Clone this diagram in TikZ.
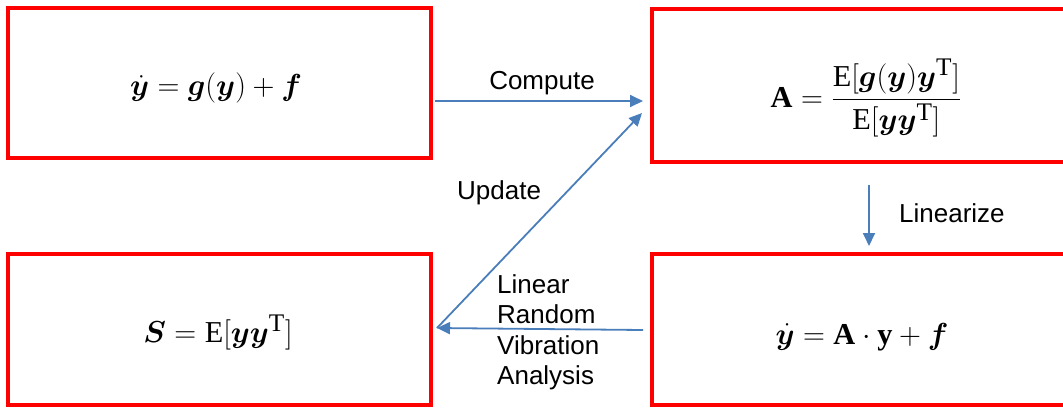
\documentclass[tikz,border=0pt]{standalone}
\usepackage{amsmath}
\usepackage{bm}
\usepackage{fontspec}
\setmainfont{Liberation Serif}
\newfontfamily\lblfont{Liberation Sans}
\usetikzlibrary{arrows.meta}
\definecolor{boxred}{RGB}{255,0,0}
\definecolor{arrblue}{RGB}{74,126,187}
\tikzset{
  redbox/.style={draw=boxred, line width=4pt},
  formula/.style={inner sep=0pt, font=\fontsize{24.88}{30}\selectfont, scale=1.22, transform shape},
  lbl/.style={inner sep=0pt, font=\lblfont\fontsize{26}{30.5}\selectfont, text=black},
  conn/.style={draw=arrblue, line width=1.8pt, -{Triangle[length=13pt,width=12pt]}}
}
\begin{document}
\begin{tikzpicture}[x=1pt,y=-1pt]
\useasboundingbox (0,0) rectangle (1063,408);
% boxes
\draw[redbox] (8,8) rectangle (431,158);
\draw[redbox] (652,9) rectangle (1080,162);
\draw[redbox] (8,254) rectangle (431,405);
\draw[redbox] (652,254) rectangle (1080,405);
\coordinate (tlE) at (435,101);
\coordinate (trW) at (643,101);
\coordinate (trSW) at (642,113);
\coordinate (blE) at (437,328);
\coordinate (brW) at (643,330);
\coordinate (trS) at (869,185);
\coordinate (brN) at (869,246);
% formulas
\node[formula] (f1) at (216,88) {$\dot{\bm{y}} = \bm{g}(\bm{y}) + \bm{f}$};
\node[formula] (f2) at (866,98) {$\mathbf{A} = \dfrac{\mathrm{E}[\bm{g}(\bm{y})\bm{y}^{\mathrm{T}}]}{\mathrm{E}[\bm{y}\bm{y}^{\mathrm{T}}]}$};
\node[formula] (f3) at (218,332) {$\bm{S} = \mathrm{E}[\bm{y}\bm{y}^{\mathrm{T}}]$};
\node[formula] (f4) at (862,337) {$\dot{\bm{y}} = \mathbf{A}\cdot\mathbf{y} + \bm{f}$};
% connectors
\draw[conn] (tlE) -- (trW);
\draw[conn] (blE) -- (trSW);
\draw[conn] (brW) -- (blE);
\draw[conn] (trS) -- (brN);
% labels
\node[lbl, anchor=base] (lc) at (542,89) {Compute};
\node[lbl, anchor=base west] (lu) at (457,199) {Update};
\node[lbl, anchor=base west] (ll) at (899,222) {Linearize};
\node[lbl, anchor=north west, align=left] (lr) at (497,274) {Linear\\Random\\Vibration\\Analysis};
\end{tikzpicture}
\end{document}
